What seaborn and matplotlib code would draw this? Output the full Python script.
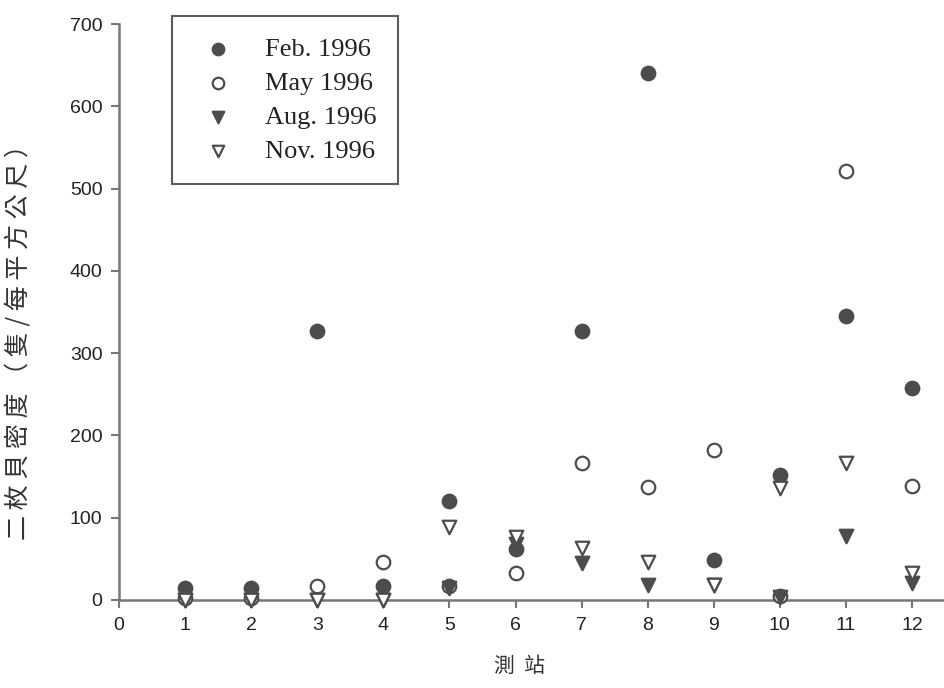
import numpy as np
import pandas as pd
import matplotlib
matplotlib.use("Agg")
import matplotlib.pyplot as plt
import seaborn as sns

# Station numbers and bivalve densities (ind./m^2) per survey
stations = [1, 2, 3, 4, 5, 6, 7, 8, 9, 10, 11, 12]
feb_1996 = [15, 15, 327, 17, 120, 62, 327, 640, 48, 152, 345, 258]
may_1996 = [2, 2, 17, 46, 17, 33, 166, 137, 182, 5, 522, 139]
aug_1996 = [0, 0, 0, 0, 15, 68, 45, 18, 18, 3, 78, 20]
nov_1996 = [0, 0, 0, 0, 89, 77, 63, 46, 18, 136, 166, 33]

series_names = ["Feb. 1996", "May 1996", "Aug. 1996", "Nov. 1996"]
x_ticks = list(range(0, 13))
y_ticks = [0, 100, 200, 300, 400, 500, 600, 700]

df = pd.DataFrame({
    "station": stations * 4,
    "density": feb_1996 + may_1996 + aug_1996 + nov_1996,
    "survey": sum([[n] * len(stations) for n in series_names], []),
})

sns.set_theme(style="white")
plt.rcParams["font.family"] = ["Liberation Sans", "DejaVu Sans"]

dark = "#4c4c4c"
styles = {
    "Feb. 1996": dict(marker="o", facecolor=dark, edgecolor=dark),
    "May 1996": dict(marker="o", facecolor="white", edgecolor=dark),
    "Aug. 1996": dict(marker="v", facecolor=dark, edgecolor=dark),
    "Nov. 1996": dict(marker="v", facecolor="white", edgecolor=dark),
}

fig = plt.figure(figsize=(9.45, 6.88), dpi=100)
ax = fig.add_axes([0.126, 0.128, 0.874, 0.837])

for name in series_names:
    sub = df[df["survey"] == name]
    st = styles[name]
    sns.scatterplot(data=sub, x="station", y="density", ax=ax,
                    marker=st["marker"], s=95, color=st["facecolor"],
                    edgecolor=st["edgecolor"], linewidth=1.6,
                    label=name, clip_on=False, zorder=3)

ax.set_xlim(0, 12.5)
ax.set_ylim(0, 700)
ax.set_xticks(x_ticks)
ax.set_yticks(y_ticks)
ax.tick_params(axis="both", which="major", direction="out", length=6,
               width=1.5, color="#777777", labelsize=14, labelcolor="#222222",
               bottom=True, left=True, pad=6)

for side in ["top", "right"]:
    ax.spines[side].set_visible(False)
for side in ["left", "bottom"]:
    ax.spines[side].set_color("#777777")
    ax.spines[side].set_linewidth(1.8)

cjk = ["Noto Sans CJK TC", "DejaVu Sans"]
ax.set_xlabel("測  站", family=cjk, fontsize=15, color="#333333")
ax.set_ylabel("二 枚 貝 密 度 （ 隻 / 每 平 方 公 尺 ）", family=cjk,
              fontsize=18, color="#333333")
ax.xaxis.set_label_coords(0.485, -0.095)
ax.yaxis.set_label_coords(-0.105, 0.458)

leg = ax.legend(loc="upper left", bbox_to_anchor=(0.064, 1.014),
                borderaxespad=0, frameon=True, fancybox=False,
                prop={"family": "Liberation Serif", "size": 19},
                borderpad=0.8, labelspacing=0.4, handletextpad=0.83,
                markerscale=0.85, handlelength=1.9)
leg.get_frame().set_edgecolor("#333333")
leg.get_frame().set_linewidth(1.5)
for t in leg.get_texts():
    t.set_color("#222222")

fig.savefig("out.png", dpi=100)
